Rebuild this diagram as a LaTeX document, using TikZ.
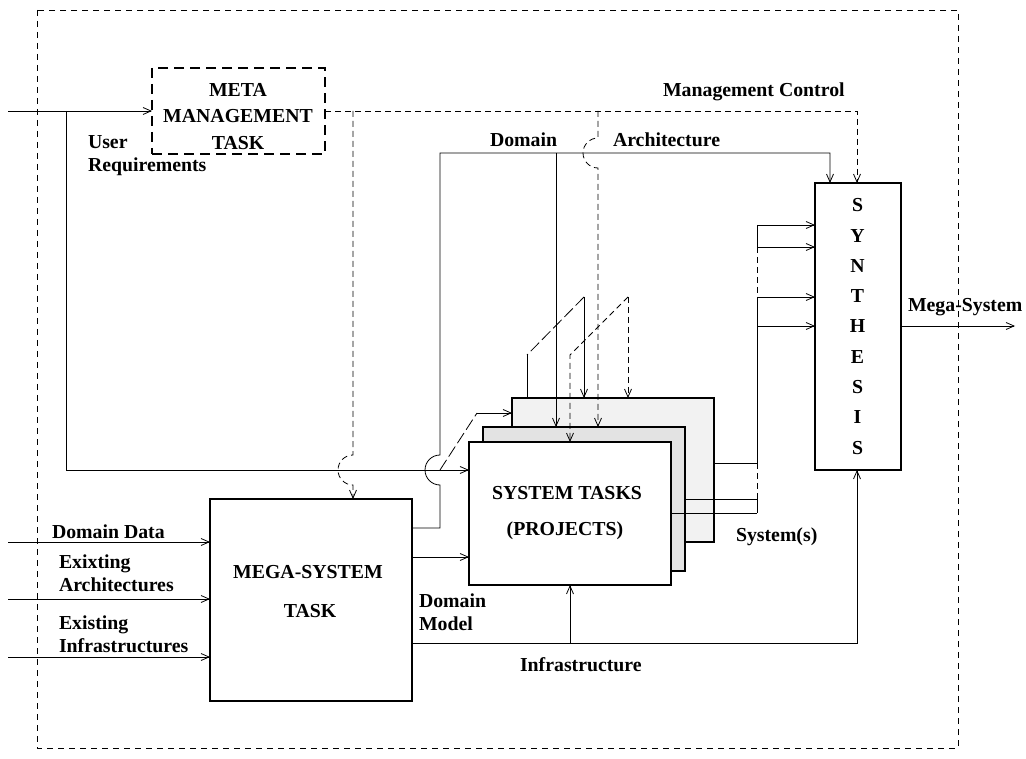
\documentclass[tikz,border=0pt]{standalone}
\usepackage{fontspec}
\setmainfont{Liberation Serif}
\usetikzlibrary{arrows.meta}
\definecolor{backc}{gray}{0.95}
\definecolor{midc}{gray}{0.89}
\begin{document}
\begin{tikzpicture}[x=1pt,y=1pt,line width=0.8pt,
 >={Straight Barb[length=8pt,width=7pt]},
 every node/.style={font=\fontsize{19.8}{23}\selectfont\bfseries, inner sep=0pt, outer sep=0pt},
 box/.style={draw, line width=1.3pt, anchor=center},
 lb/.style={anchor=base},
 lw/.style={anchor=base west},
 ctl/.style={dash pattern=on 6pt off 4pt},
 persp/.style={dash pattern=on 12pt off 4pt},
 frame/.style={dash pattern=on 6pt off 5pt, line width=0.6pt}]

\useasboundingbox (0,0) rectangle (1026,-759);
\draw[frame] (37,-10) rectangle (958,-748);

% boxes
\node[box, dash pattern=on 10pt off 6pt, minimum width=173pt, minimum height=86pt] (mmt) at (238.5,-111) {};
\node[box, minimum width=202pt, minimum height=202pt] (mega) at (311,-600) {};
\node[box, fill=backc, minimum width=202pt, minimum height=144pt] (back) at (613,-470) {};
\node[box, fill=midc, minimum width=202pt, minimum height=144pt] (mid) at (584,-499) {};
\node[box, fill=white, minimum width=202pt, minimum height=143pt] (front) at (570,-513.5) {};
\node[box, minimum width=86pt, minimum height=287pt] (syn) at (858,-326.5) {};

% texts
\node[lb] (tmeta) at (238,-97) {META};
\node[lb] (tmgmt) at (238,-123) {MANAGEMENT};
\node[lb] (ttask) at (238,-150) {TASK};
\node[lw] (tuser) at (88,-149) {User};
\node[lw] (treq) at (88,-172) {Requirements};
\node[lw] (tmc) at (663,-97) {Management Control};
\node[lw] (tdom) at (490,-147) {Domain};
\node[lw] (tarch) at (613,-147) {Architecture};
\node[lw] (tdd) at (52,-538) {Domain Data};
\node[lw] (tex1) at (59,-568) {Exixting};
\node[lw] (tex2) at (59,-591) {Architectures};
\node[lw] (tei1) at (59,-629) {Existing};
\node[lw] (tei2) at (59,-652) {Infrastructures};
\node[lb] (tmega1) at (308,-578) {MEGA-SYSTEM};
\node[lb] (tmega2) at (310,-617) {TASK};
\node[lb] (tst1) at (567,-499) {SYSTEM TASKS};
\node[lb] (tst2) at (565,-535) {(PROJECTS)};
\node[lw] (tdm1) at (419,-607) {Domain};
\node[lw] (tdm2) at (419,-630) {Model};
\node[lw] (tinf) at (520,-671) {Infrastructure};
\node[lw] (tsys) at (736,-541) {System(s)};
\node[lw] (tms) at (908,-312) {Mega-System};
\foreach \l [count=\i from 0] in {S,Y,N,T,H,E,S,I,S}
  \node[lb] (syn\i) at (857.5,{-212-30.25*\i}) {\l};

% coordinates
\coordinate (urIn) at (8,-111);
\coordinate (urJ) at (66,-111);
\coordinate (urK) at (66,-470);
\coordinate (mcR) at (857,-111);
\coordinate (mcA) at (353,-111);
\coordinate (mcB) at (598,-111);
\coordinate (daR) at (830,-153);
\coordinate (domJ) at (556,-153);
\coordinate (infJ) at (570,-643);
\coordinate (infR) at (857,-643);
\coordinate (vx) at (757,-225);

% user requirements
\draw[->] (urIn) -- (mmt.west);
\draw[->] (urJ) -- (urK) -- (urK -| front.west);

% management control (dashed)
\draw[ctl,->] (mmt.east) -- (mcR) -- (mcR |- syn.north);
\draw[ctl,->] (mcA) -- (353,-455) arc[start angle=90,end angle=270,radius=15pt] -- (mcA |- mega.north);
\draw[ctl,->] (mcB) -- (598,-138) arc[start angle=90,end angle=270,radius=15pt] -- (mcB |- mid.north);

% domain / architecture
\draw[->] (412,-528) -- (440,-528) -- (440,-485) arc[start angle=-90,end angle=-270,radius=15pt] -- (440,-153) -- (daR) -- (daR |- syn.north);
\draw[->] (domJ) -- (domJ |- mid.north);

% perspective copies
\draw[persp] (440,-470) -- (477,-413);
\draw[->] (477,-413) -- (477,-413 -| back.west);
\draw[->] (584,-297) -- (584,-297 |- back.north);
\draw[persp] (584,-297) -- (527,-355);
\draw (527,-355) -- (527,-355 |- back.north);
\draw[ctl,->] (628,-297) -- (628,-297 |- back.north);
\draw[ctl,->] (628,-297) -- (570,-355) -- (570,-355 |- front.north);

% mega-system to system tasks
\draw[->] (mega.east |- 0,-557) -- (front.west |- 0,-557);

% infrastructure
\draw[->] (mega.east |- infR) -- (infR) -- (infR |- syn.south);
\draw[->] (infJ) -- (infJ |- front.south);

% inputs
\draw[->] (8,-542) -- (mega.west |- 0,-542);
\draw[->] (8,-599) -- (mega.west |- 0,-599);
\draw[->] (8,-657) -- (mega.west |- 0,-657);

% systems to synthesis
\draw (back.east |- 0,-463) -- (757,-463);
\draw (mid.east |- 0,-499) -- (757,-499);
\draw (front.east |- 0,-513) -- (757,-513);
\draw (757,-499) -- (757,-513);
\draw[ctl] (757,-463) -- (757,-499);
\draw (757,-297) -- (757,-463);
\draw[ctl] (757,-247) -- (757,-297);
\draw (vx) -- (757,-247);
\draw[->] (vx) -- (vx -| syn.west);
\draw[->] (757,-247) -- (syn.west |- 0,-247);
\draw[->] (757,-297) -- (syn.west |- 0,-297);
\draw[->] (757,-326) -- (syn.west |- 0,-326);

% output
\draw[->] (syn.east |- 0,-326) -- (1015,-326);
\end{tikzpicture}
\end{document}
